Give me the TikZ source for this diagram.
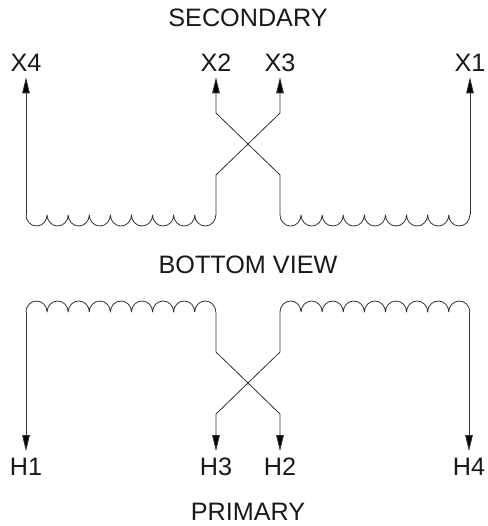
\documentclass[tikz,border=0pt]{standalone}
\usepackage{fontspec}
\setmainfont{Liberation Sans}
\usetikzlibrary{arrows.meta}
\tikzset{
  wire/.style={draw=black!80,line width=0.6pt,line join=round},
  lead/.style={wire,-{Triangle[length=12pt,width=5.6pt,fill=black]}},
  title/.style={font=\fontsize{18.9pt}{22pt}\selectfont,inner sep=0pt,text=black!90,text height=13.5pt,text depth=0pt},
  term/.style={title,minimum height=22.5pt,minimum width=20pt},
}
\newcommand{\hd}{arc[start angle=180,end angle=360,x radius=7.91pt,y radius=8.25pt]}
\newcommand{\hu}{arc[start angle=180,end angle=0,x radius=7.91pt,y radius=8.25pt]}
\begin{document}
\begin{tikzpicture}[x=0.75pt,y=-0.75pt]
\useasboundingbox (0,0) rectangle (487,526);
% labels
\node[title] (sec) at (248,17) {SECONDARY};
\node[title] (bot) at (248,264) {BOTTOM VIEW};
\node[title] (pri) at (248,511.5) {PRIMARY};
\node[term] (x4) at (26,62) {X4};
\node[term] (x2) at (216,62) {X2};
\node[term] (x3) at (280,62) {X3};
\node[term] (x1) at (470,62) {X1};
\node[term] (h1) at (26,466.5) {H1};
\node[term] (h3) at (216,466.5) {H3};
\node[term] (h2) at (280,466.5) {H2};
\node[term] (h4) at (469,466.5) {H4};
% secondary
\coordinate (a1) at (26,215);
\coordinate (a2) at (216,215);
\coordinate (a3) at (216,175);
\coordinate (a4) at (280,113);
\coordinate (b1) at (280,215);
\coordinate (b2) at (470,215);
\coordinate (b3) at (280,175);
\coordinate (b4) at (216,113);
\draw[wire] (a1) \hd\hd\hd\hd\hd\hd\hd\hd\hd;
\draw[wire] (b1) \hd\hd\hd\hd\hd\hd\hd\hd\hd;
\draw[lead] (a1) -- (x4.south);
\draw[lead] (b2) -- (x1.south);
\draw[lead] (a2) -- (a3) -- (a4) -- (x3.south);
\draw[lead] (b1) -- (b3) -- (b4) -- (x2.south);
% primary
\coordinate (c1) at (26,312);
\coordinate (c2) at (216,312);
\coordinate (c3) at (216,352);
\coordinate (c4) at (280,414);
\coordinate (d1) at (280,312);
\coordinate (d2) at (469,312);
\coordinate (d3) at (280,352);
\coordinate (d4) at (216,414);
\draw[wire] (c1) \hu\hu\hu\hu\hu\hu\hu\hu\hu;
\draw[wire] (d1) \hu\hu\hu\hu\hu\hu\hu\hu\hu;
\draw[lead] (c1) -- (h1.north);
\draw[lead] (d2) -- (h4.north);
\draw[lead] (c2) -- (c3) -- (c4) -- (h2.north);
\draw[lead] (d1) -- (d3) -- (d4) -- (h3.north);
\end{tikzpicture}
\end{document}
